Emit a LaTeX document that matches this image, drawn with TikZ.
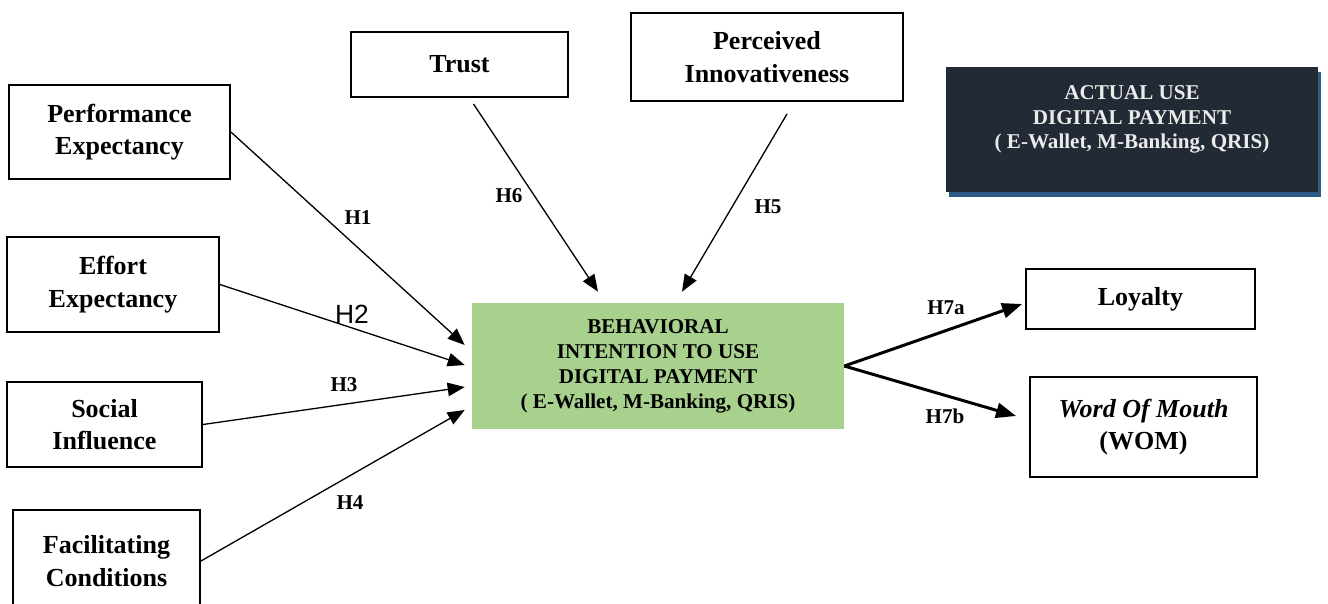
\documentclass[tikz,border=0pt]{standalone}
\usepackage{fontspec}
\setmainfont{Liberation Serif}
\newfontfamily\arialfont{Liberation Sans}
\usetikzlibrary{calc, arrows.meta, shadows}

\definecolor{bigreen}{HTML}{A9D18E}
\definecolor{aunavy}{HTML}{222A35}
\definecolor{aushadow}{HTML}{2E5A88}

\begin{document}
\begin{tikzpicture}[
    x=0.02cm, y=-0.02cm,
    >={Triangle[length=0.34cm, width=0.27cm]},
    box/.style={draw, line width=1.1pt, align=center, inner sep=0pt,
        font=\bfseries\fontsize{14.8}{18.5}\selectfont},
    smalltext/.style={align=center, inner sep=0pt,
        font=\bfseries\fontsize{12}{14.2}\selectfont},
    link/.style={->, line width=0.75pt},
    biglink/.style={-{Triangle[length=0.4cm, width=0.3cm]}, line width=1.7pt},
    hyp/.style={font=\bfseries\fontsize{12}{14}\selectfont}
]
    \useasboundingbox (0,0) rectangle (1328,603);

    % Left side constructs
    \node[box, minimum width=4.42cm, minimum height=1.88cm] (pe) at (119.5,132) {Performance\\ Expectancy};
    \node[box, minimum width=4.24cm, minimum height=1.9cm] (ee) at (113,284.5) {Effort\\ Expectancy};
    \node[box, minimum width=3.9cm, minimum height=1.7cm] (si) at (104.5,424.5) {Social\\ Influence};
    \node[box, minimum width=3.74cm, minimum height=2.04cm] (fc) at (106.5,561) {Facilitating\\ Conditions};

    % Top constructs
    \node[box, minimum width=4.34cm, minimum height=1.3cm] (trust) at (459.5,64.5) {Trust};
    \node[box, minimum width=5.44cm, minimum height=1.76cm] (pi) at (767,57) {Perceived\\ Innovativeness};

    % Actual use (dark box with shadow)
    \node[smalltext, fill=aunavy, text=white!92!black, minimum width=7.44cm, minimum height=2.5cm,
        drop shadow={shadow xshift=0.06cm, shadow yshift=-0.1cm, fill=aushadow, opacity=1}]
        (au) at (1132,129.5) {ACTUAL USE\\ DIGITAL PAYMENT\\ ( E-Wallet, M-Banking, QRIS)\\ \mbox{}};

    % Behavioral intention
    \node[smalltext, fill=bigreen, minimum width=7.44cm, minimum height=2.52cm] (bi) at (658,366)
        {BEHAVIORAL\\ INTENTION TO USE\\ DIGITAL PAYMENT\\ ( E-Wallet, M-Banking, QRIS)};

    % Outcomes
    \node[box, minimum width=4.58cm, minimum height=1.2cm] (loyal) at (1140.5,299) {Loyalty};
    \node[box, minimum width=4.54cm, minimum height=2cm] (wom) at (1143.5,427) {\itshape Word Of Mouth\\ (WOM)};

    % Hypothesis paths
    \draw[link] (pe.east) -- ($(bi.west)+(-7,-21)$);
    \draw[link] (ee.east) -- ($(bi.west)+(-7,-1)$);
    \draw[link] (si.east) -- ($(bi.west)+(-7,21)$);
    \draw[link] (fc.east) -- ($(bi.west)+(-7,44)$);
    \draw[link] ($(trust.south)+(14,6)$) -- ($(bi.north)+(-60,-11)$);
    \draw[link] ($(pi.south)+(20,12)$) -- ($(bi.north)+(24,-11)$);
    \draw[biglink] (bi.east) -- ($(loyal.west)+(-3,5)$);
    \draw[biglink] (bi.east) -- ($(wom.west)+(-13,-11)$);

    % Labels
    \node[hyp] (h1) at (358,218) {H1};
    \node[font=\arialfont\fontsize{15}{18}\selectfont] (h2) at (352,314) {H2};
    \node[hyp] (h3) at (344,385) {H3};
    \node[hyp] (h4) at (350,503) {H4};
    \node[hyp] (h5) at (768,207) {H5};
    \node[hyp] (h6) at (509,196) {H6};
    \node[hyp] (h7a) at (946,308) {H7a};
    \node[hyp] (h7b) at (945,416) {H7b};

\end{tikzpicture}
\end{document}
